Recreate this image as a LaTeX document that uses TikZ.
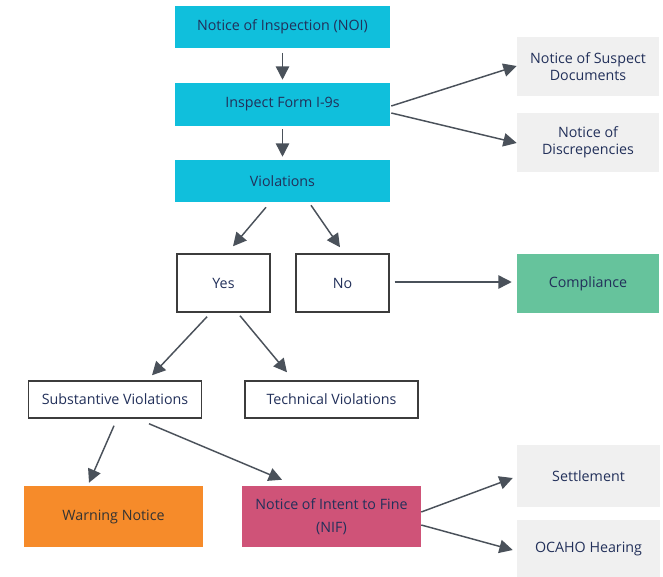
\documentclass[tikz,border=0pt]{standalone}
\usepackage{fontspec}
\setmainfont{Open Sans}
\usetikzlibrary{arrows.meta,calc}
\definecolor{FlowCyan}{HTML}{10BFDC}
\definecolor{FlowGreen}{HTML}{66C39C}
\definecolor{FlowOrange}{HTML}{F68B2A}
\definecolor{FlowPink}{HTML}{CF5378}
\definecolor{FlowGrey}{HTML}{F0F0F0}
\definecolor{FlowText}{HTML}{22305A}
\definecolor{FlowArrow}{HTML}{4A515A}
\definecolor{FlowEdge}{HTML}{3C3C3C}

\begin{document}
\begin{tikzpicture}[x=0.75pt, y=-0.75pt,
  txt/.style={inner sep=0pt, align=center, text=FlowText, font=\fontsize{10.7}{12.5}\selectfont},
  cyanbox/.style={txt, fill=FlowCyan, minimum width=161.25pt, minimum height=31.5pt},
  greybox/.style={txt, fill=FlowGrey, minimum width=106.5pt, minimum height=44.25pt},
  openbox/.style={txt, draw=FlowEdge, line width=1.1pt, fill=white},
  flow/.style={-{Triangle[length=10pt, width=10pt]}, line width=1.1pt, draw=FlowArrow}]
\useasboundingbox (0,0) rectangle (663,577);

% Main column
\node[cyanbox] (noi) at (282.5, 27) {Notice of Inspection (NOI)};
\node[cyanbox, minimum height=32.25pt] (inspect) at (282.5, 104.5) {Inspect Form I-9s};
\node[cyanbox] (viol) at (282.5, 181) {Violations};

% Notices on the right
\node[greybox] (suspect) at (588, 66.5) {Notice of Suspect\\Documents};
\node[greybox] (discrep) at (588, 142.5) {Notice of\\Discrepencies};

% Yes / No
\node[openbox, minimum width=69.75pt, minimum height=43.5pt] (yes) at (223.5, 283) {Yes};
\node[openbox, minimum width=69.75pt, minimum height=43.5pt] (no) at (342.5, 283) {No};
\node[greybox, fill=FlowGreen] (compl) at (588, 283.5) {Compliance};

% Kinds of violations
\node[openbox, minimum width=130pt, minimum height=27.75pt] (subst) at (115, 399.5) {Substantive Violations};
\node[openbox, minimum width=130pt, minimum height=27.75pt] (tech) at (331.5, 399.5) {Technical Violations};

% Outcomes
\node[txt, fill=FlowOrange, text=black!80, minimum width=134.25pt, minimum height=45.75pt] (warn) at (113.5, 516.5) {Warning Notice};
\node[txt, fill=FlowPink, minimum width=134.25pt, minimum height=45.75pt, font=\fontsize{10.7}{17.5}\selectfont] (nif) at (331.5, 516.5) {Notice of Intent to Fine\\(NIF)};
\node[greybox, minimum width=107.25pt, minimum height=46.5pt] (settle) at (588.5, 476) {Settlement};
\node[greybox, minimum width=107.25pt, minimum height=42.75pt] (ocaho) at (588.5, 548.5) {OCAHO Hearing};

% Arrows
\draw[flow] ($(noi.south)+(0,4.5)$) -- ($(inspect.north)+(0,-3)$);
\draw[flow] ($(inspect.south)+(0,3)$) -- ($(viol.north)+(0,-3)$);
\draw[flow] ($(inspect.east)+(1,1.5)$) -- ($(suspect.west)+(0,-0.5)$);
\draw[flow] ($(inspect.east)+(1,8.5)$) -- ($(discrep.west)+(0,0.5)$);
\draw[flow] ($(viol.south)+(-16.5,5)$) -- ($(yes.north)+(9.5,-7)$);
\draw[flow] ($(viol.south)+(28.5,3)$) -- ($(no.north)+(-2.5,-6)$);
\draw[flow] ($(no.east)+(5,-1)$) -- ($(compl.west)+(-5,-1.5)$);
\draw[flow] ($(yes.south)+(-16.5,4)$) -- ($(subst.north)+(37,-5)$);
\draw[flow] ($(yes.south)+(16.5,3)$) -- ($(tech.north)+(-44.5,-8)$);
\draw[flow] ($(subst.south)+(-1,7)$) -- ($(warn.north)+(-24.5,-3)$);
\draw[flow] ($(subst.south)+(34,5)$) -- ($(nif.north)+(-49.5,-6)$);
\draw[flow] ($(nif.east)+(0,-4.5)$) -- ($(settle.west)+(-4,2)$);
\draw[flow] ($(nif.east)+(0,8.5)$) -- ($(ocaho.west)+(-4,1.5)$);
\end{tikzpicture}
\end{document}
